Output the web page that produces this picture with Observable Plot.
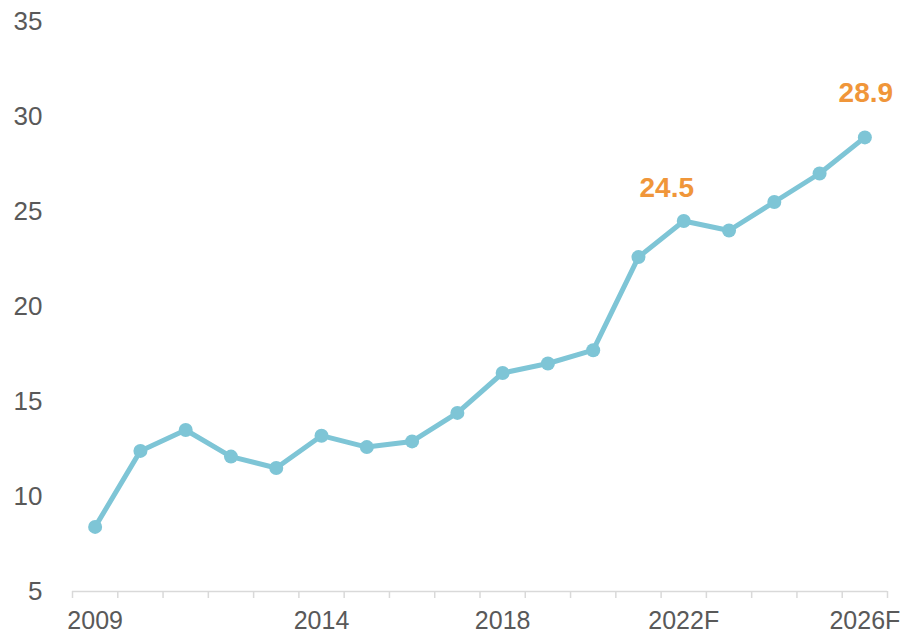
<!DOCTYPE html>
<html>
<head>
<meta charset="utf-8">
<script src="https://cdn.jsdelivr.net/npm/d3@7"></script>
<script src="https://cdn.jsdelivr.net/npm/@observablehq/plot@0.6"></script>
<style>
  html, body { margin: 0; padding: 0; background: #fff; }
</style>
</head>
<body>
<div id="chart"></div>
<script>
const years = [2009, 2010, 2011, 2012, 2013, 2014, 2015, 2016, 2017, 2018, 2019, 2020, 2021, 2022, 2023, 2024, 2025, 2026];
const values = [8.4, 12.4, 13.5, 12.1, 11.5, 13.2, 12.6, 12.9, 14.4, 16.5, 17.0, 17.7, 22.6, 24.5, 24.0, 25.5, 27.0, 28.9];
const labelYears = [2009, 2014, 2018, 2022, 2026];
const labelTexts = ["2009", "2014", "2018", "2022F", "2026F"];
const yTicks = [5, 10, 15, 20, 25, 30, 35];
const annotYears = [2022, 2026];
const annotValues = [24.5, 28.9];
const annotTexts = ["24.5", "28.9"];

const data = years.map((y, i) => ({year: y, value: values[i]}));
const annotA = [{year: annotYears[0], value: annotValues[0], text: annotTexts[0]}];
const annotB = [{year: annotYears[1], value: annotValues[1], text: annotTexts[1]}];
const boundaries = d3.range(years[0] - 0.5, years[years.length - 1] + 1, 1);

const lineColor = "#7ec5d6";
const orange = "#f0963a";

const chart = Plot.plot({
  width: 904,
  height: 635,
  marginTop: 21,
  marginBottom: 44,
  marginLeft: 72,
  marginRight: 17,
  style: {fontFamily: "'Liberation Sans', Arial, sans-serif", color: "#595959", background: "#fff", overflow: "visible"},
  x: {type: "linear", domain: [years[0] - 0.5, years[years.length - 1] + 0.5]},
  y: {domain: [5, 35]},
  marks: [
    Plot.axisY({ticks: yTicks, tickSize: 0, tickPadding: 30, fontSize: 26, label: null, tickFormat: d => String(d)}),
    Plot.ruleY([5], {stroke: "#d9d9d9", strokeWidth: 1.5}),
    Plot.axisX({ticks: boundaries, tickSize: 7, text: null, stroke: "#d9d9d9", strokeWidth: 1.5, label: null}),
    Plot.axisX({ticks: labelYears, tickSize: 0, tickPadding: 20, fontSize: 25, label: null,
      tickFormat: d => labelTexts[labelYears.indexOf(d)]}),
    Plot.line(data, {x: "year", y: "value", stroke: lineColor, strokeWidth: 5}),
    Plot.dot(data, {x: "year", y: "value", fill: lineColor, r: 7}),
    Plot.text(annotA, {x: "year", y: "value", text: "text", fill: orange, fontSize: 28, fontWeight: "bold",
      dy: -33, dx: -17, textAnchor: "middle", lineAnchor: "middle"}),
    Plot.text(annotB, {x: "year", y: "value", text: "text", fill: orange, fontSize: 28, fontWeight: "bold",
      dy: -44, dx: 1, textAnchor: "middle", lineAnchor: "middle"})
  ]
});
document.getElementById("chart").appendChild(chart);
</script>
</body>
</html>
